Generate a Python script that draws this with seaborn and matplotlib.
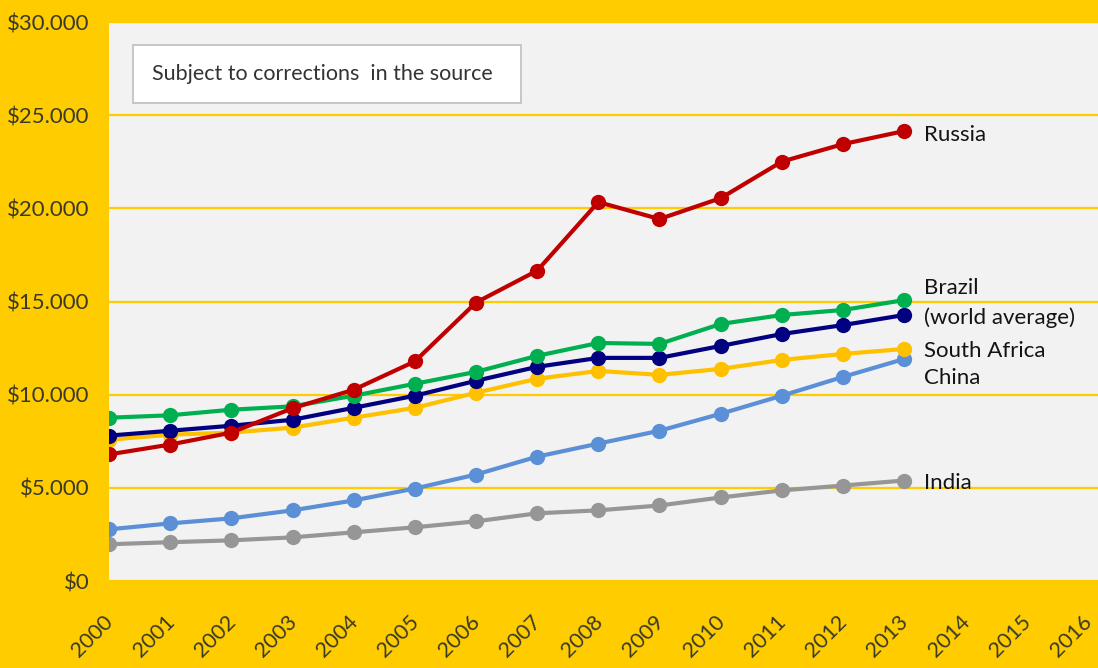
import matplotlib
matplotlib.use("Agg")
import matplotlib.pyplot as plt
import matplotlib.transforms as mtransforms
import seaborn as sns
import pandas as pd
from matplotlib.ticker import FuncFormatter, MultipleLocator
from matplotlib.patches import Rectangle

years = list(range(2000, 2014))

russia = [6800, 7330, 7970, 9280, 10270, 11790, 14950, 16660, 20340, 19430, 20550, 22510, 23450, 24150]
brazil = [8770, 8900, 9200, 9380, 9950, 10590, 11230, 12090, 12780, 12730, 13800, 14280, 14550, 15080]
world_avg = [7810, 8070, 8340, 8660, 9300, 9950, 10750, 11500, 11980, 11980, 12620, 13260, 13740, 14280]
south_africa = [7590, 7860, 7970, 8240, 8770, 9300, 10110, 10860, 11280, 11070, 11390, 11870, 12190, 12460]
china = [2780, 3100, 3370, 3800, 4330, 4970, 5720, 6680, 7380, 8070, 8980, 9950, 10960, 11920]
india = [1980, 2090, 2190, 2350, 2620, 2890, 3210, 3640, 3800, 4060, 4490, 4870, 5130, 5400]

series_names = ["India", "China", "South Africa", "world average", "Brazil", "Russia"]
series_values = [india, china, south_africa, world_avg, brazil, russia]
series_colors = ["#969696", "#5B8FD6", "#FFC000", "#000080", "#00B050", "#C00000"]

# end labels: (text, y position in data units)
end_labels = [
    ("Russia", 23950),
    ("Brazil", 15720),
    ("(world average)", 14120),
    ("South Africa", 12350),
    ("China", 10910),
    ("India", 5290),
]

x_ticks = list(range(2000, 2017))
note_text = "Subject to corrections  in the source"

sns.set_theme(style="white")
plt.rcParams['font.family'] = ['Lato', 'DejaVu Sans']

gold = "#FFCC00"
fig = plt.figure(figsize=(10.98, 6.68), dpi=100, facecolor=gold)
ax = fig.add_axes([0.0993, 0.130, 0.9007, 0.837])
ax.set_facecolor("#F2F2F2")

for name, vals, col in zip(series_names, series_values, series_colors):
    df = pd.DataFrame({"year": years, "value": vals})
    sns.lineplot(data=df, x="year", y="value", ax=ax, color=col, linewidth=3,
                 marker="o", markersize=11, markeredgewidth=0, zorder=3)

for text, y in end_labels:
    ax.text(2013.33, y, text, fontsize=16, color="#141414", va="center", ha="left", zorder=4)

ax.set_xlim(2000, 2016.17)
ax.set_ylim(0, 30000)
ax.yaxis.set_major_locator(MultipleLocator(5000))
ax.yaxis.set_major_formatter(FuncFormatter(lambda v, p: "$" + f"{int(v):,}".replace(",", ".")))
ax.set_xticks(x_ticks)
ax.set_xticklabels([str(t) for t in x_ticks], rotation=45, ha="right", rotation_mode="anchor")
ax.tick_params(axis="x", length=0, pad=22, labelsize=15.5, labelcolor="#3A3A2A")
ax.tick_params(axis="y", length=0, pad=14, labelsize=16, labelcolor="#3A3A2A")
shift = mtransforms.ScaledTranslation(-6 / 100, 0, fig.dpi_scale_trans)
for lbl in ax.get_xticklabels():
    lbl.set_transform(lbl.get_transform() + shift)
ax.set_xlabel("")
ax.set_ylabel("")
ax.grid(axis="y", color=gold, linewidth=1.6, zorder=0)
ax.set_axisbelow(True)
for s in ax.spines.values():
    s.set_visible(False)

ax.add_patch(Rectangle((0.0243, 0.855), 0.3923, 0.104, transform=ax.transAxes,
                       facecolor="white", edgecolor="#BFBFBF", linewidth=1.2, zorder=5))
ax.text(0.0435, 0.907, note_text, transform=ax.transAxes, fontsize=15.5,
        color="#333333", va="center", ha="left", zorder=6)

fig.savefig("out.png", dpi=100, facecolor=gold)
